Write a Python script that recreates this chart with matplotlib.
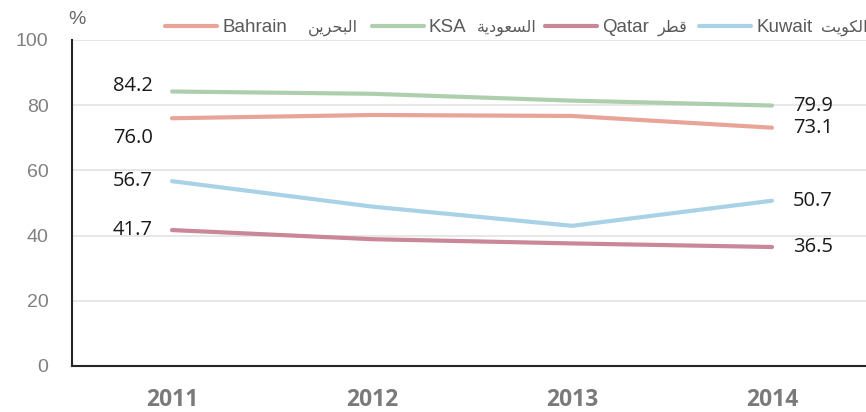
import matplotlib
matplotlib.use("Agg")
import matplotlib.pyplot as plt
from matplotlib.lines import Line2D

years = ["2011", "2012", "2013", "2014"]
bahrain = [76.0, 77.0, 76.7, 73.1]
ksa = [84.2, 83.5, 81.4, 79.9]
qatar = [41.7, 38.9, 37.6, 36.5]
kuwait = [56.7, 48.9, 43.0, 50.7]
yticks = [0, 20, 40, 60, 80, 100]

# Arabic names written with presentation forms in visual (left-to-right) order
ar_bahrain = "\uFEE6\uFEF3\uFEAE\uFEA4\uFE92\uFEDF\uFE8D"      # البحرين
ar_ksa = "\uFE94\uFEF3\uFEA9\uFEEE\uFECC\uFEB4\uFEDF\uFE8D"    # السعودية
ar_qatar = "\uFEAE\uFEC4\uFED7"                                # قطر
ar_kuwait = "\uFE96\uFEF3\uFEEE\uFEDC\uFEDF\uFE8D"             # الكويت

names_en = ["Bahrain", "KSA", "Qatar", "Kuwait"]
names_ar = [ar_bahrain, ar_ksa, ar_qatar, ar_kuwait]
values = [bahrain, ksa, qatar, kuwait]
colors = ["#E8A597", "#AECFAE", "#C98798", "#A9D2E6"]

W, H = 866, 412
fig = plt.figure(figsize=(W / 100, H / 100), dpi=100)
ax = fig.add_axes([72 / W, (H - 366) / H, 800 / W, 326 / H])

x = list(range(len(years)))
for en, ar, vals, col in zip(names_en, names_ar, values, colors):
    ax.plot(x, vals, color=col, lw=3.0, solid_capstyle="round", label=en + " " + ar, zorder=3)

ax.set_xlim(-0.5, 3.5)
ax.set_ylim(0, 100)
ax.set_yticks(yticks)
ax.set_xticks(x)
ax.set_xticklabels(years)
ax.grid(axis="y", color="#E3E3E3", lw=1.2, zorder=0)
ax.set_axisbelow(True)
for s in ["top", "right"]:
    ax.spines[s].set_visible(False)
for s in ["left", "bottom"]:
    ax.spines[s].set_color("#262626")
    ax.spines[s].set_linewidth(1.5)
ax.tick_params(axis="both", length=0)
ax.tick_params(axis="y", pad=17, labelsize=14, labelcolor="#808080")
ax.tick_params(axis="x", pad=16, labelsize=16.5, labelcolor="#7a7a7a")
for t in ax.get_yticklabels():
    t.set_fontfamily("Liberation Sans")
for t in ax.get_xticklabels():
    t.set_fontfamily("Open Sans")
    t.set_fontweight("bold")

lab_font = dict(fontsize=14.5, family="Open Sans", color="#1a1a1a")
px = 0.72
left_offsets = [(-19, -20), (-19, 5.5), (-19, 0), (-19, 0)]  # bahrain, ksa, qatar, kuwait
right_offsets = [(21, 0), (21, 0), (21, 0), (21, 0)]
for vals, lo, ro in zip(values, left_offsets, right_offsets):
    ax.annotate(f"{vals[0]:.1f}", (0, vals[0]), xytext=(lo[0] * px, lo[1] * px),
                textcoords="offset points", ha="right", va="center", **lab_font)
    ax.annotate(f"{vals[-1]:.1f}", (3, vals[-1]), xytext=(ro[0] * px, ro[1] * px),
                textcoords="offset points", ha="left", va="center", **lab_font)

fig.text(77 / W, 1 - 19 / H, "%", ha="center", va="center", fontsize=14,
         family="Liberation Sans", color="#666666")

# legend, laid out entry by entry (Latin and Arabic parts in separate fonts)
leg_y = 1 - 26 / H
line_x0 = [165, 372, 545, 699]
line_len = 52
en_gap = 5
ar_left = [308, 477, 658, 821]
for en, ar, col, lx, ar_l in zip(names_en, names_ar, colors, line_x0, ar_left):
    fig.add_artist(Line2D([lx / W, (lx + line_len) / W], [leg_y, leg_y], color=col, lw=3.0,
                          solid_capstyle="round", transform=fig.transFigure))
    fig.text((lx + line_len + en_gap) / W, leg_y, en, ha="left", va="center_baseline",
             fontsize=13.5, family="Liberation Sans", color="#595959")
    fig.text(ar_l / W, leg_y, ar, ha="left", va="center_baseline",
             fontsize=11.5, family="DejaVu Sans", color="#595959")

fig.savefig("out.png", dpi=100)
